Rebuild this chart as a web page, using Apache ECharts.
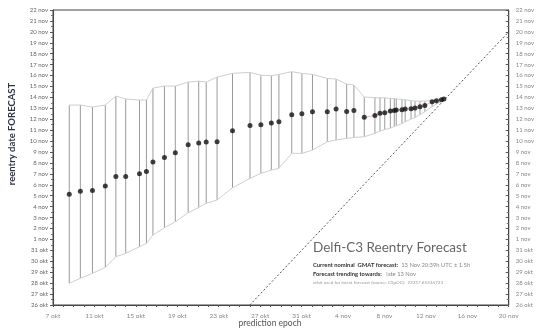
<!DOCTYPE html>
<html><head><meta charset="utf-8">
<script src="https://cdn.jsdelivr.net/npm/echarts@6/dist/echarts.min.js"></script>
<style>html,body{margin:0;padding:0;background:#fff}#c{width:537px;height:329px}</style>
</head><body><div id="c"></div>
<script>
// Day numbers: okt d = d, nov d = 31 + d
const epoch = [8.57, 9.64, 10.81, 12.05, 13.07, 14.02, 15.35, 16.02, 16.65, 17.76, 18.81, 20.05, 21.07, 21.79, 22.84, 24.33, 26.02, 27.07, 28.08, 28.81, 30.05, 31.03, 32.05, 33.48, 34.33, 35.35, 36.05, 37.05, 38.08, 38.57, 39.03, 39.57, 39.95, 40.14, 40.69, 41.00, 41.57, 41.95, 42.43, 42.90, 43.60, 44.02, 44.50, 44.74];
const forecast = [36.13, 36.40, 36.49, 36.89, 37.77, 37.77, 38.01, 38.23, 39.08, 39.51, 39.93, 40.67, 40.82, 40.91, 40.94, 41.95, 42.44, 42.50, 42.65, 42.77, 43.41, 43.50, 43.69, 43.69, 43.93, 43.72, 43.81, 43.18, 43.34, 43.54, 43.59, 43.75, 43.81, 43.84, 43.87, 43.93, 43.96, 44.02, 44.14, 44.27, 44.60, 44.69, 44.78, 44.86];
const upper = [44.30, 44.30, 44.12, 44.30, 45.12, 44.85, 44.76, 44.76, 45.85, 46.04, 46.04, 46.40, 46.49, 46.40, 46.86, 47.20, 47.29, 47.04, 46.98, 47.11, 47.35, 47.20, 47.11, 46.74, 46.68, 46.22, 46.13, 45.03, 44.98, 44.97, 44.96, 44.91, 44.89, 44.87, 44.82, 44.78, 44.71, 44.66, 44.66, 44.66, 44.73, 44.76, 44.80, 44.92];
const lower = [27.99, 28.44, 28.90, 29.45, 30.42, 30.73, 31.33, 31.64, 32.40, 33.07, 33.62, 34.44, 34.94, 35.30, 35.61, 36.73, 37.59, 38.05, 38.35, 38.51, 39.88, 39.88, 40.18, 40.94, 41.10, 41.25, 41.34, 41.40, 41.71, 41.92, 42.06, 42.19, 42.33, 42.42, 42.61, 42.77, 43.02, 43.15, 43.43, 43.69, 44.16, 44.39, 44.62, 44.80];
const diagonal = [[26, 26], [51, 51]];
const trendStart = 27; // index from which the recent forecasts are joined
const xLabelEvery = 4;

function dayLabel(v) {
  v = Math.round(v);
  return v <= 31 ? v + ' okt' : (v - 31) + ' nov';
}

const pts = epoch.map((x, i) => [x, forecast[i]]);
const ranges = epoch.map((x, i) => [x, lower[i], upper[i]]);
const up = epoch.map((x, i) => [x, upper[i]]);
const lo = epoch.map((x, i) => [x, lower[i]]);

const FONT = 'Lato, "Open Sans", sans-serif';
const chart = echarts.init(document.getElementById('c'), null, {renderer: 'canvas'});
chart.setOption({
  animation: false,
  backgroundColor: '#fff',
  grid: {left: 53, right: 22, top: 10, bottom: 24, show: true, borderColor: '#444', borderWidth: 1, containLabel: false},
  xAxis: {
    type: 'value', min: 7, max: 51, interval: 1,
    axisLine: {show: true, lineStyle: {color: '#444', width: 1}},
    axisTick: {show: true, length: 2, lineStyle: {color: '#555'}},
    splitLine: {show: false},
    axisLabel: {
      fontSize: 6.5, color: '#888', fontFamily: FONT, margin: 7,
      formatter: v => ((Math.round(v) - 7) % xLabelEvery === 0 ? dayLabel(v) : '')
    }
  },
  yAxis: [{
    type: 'value', min: 26, max: 53, interval: 1,
    axisLine: {show: true, lineStyle: {color: '#444', width: 1}},
    axisTick: {show: true, length: 3, lineStyle: {color: '#555'}},
    minorTick: {show: true, splitNumber: 2, length: 2, lineStyle: {color: '#777'}},
    splitLine: {show: false},
    axisLabel: {fontSize: 6, color: '#666', fontFamily: FONT, margin: 5, formatter: dayLabel}
  }, {
    type: 'value', min: 26, max: 53, interval: 1, position: 'right',
    axisLine: {show: true, lineStyle: {color: '#444', width: 1}},
    axisTick: {show: true, inside: true, length: 3, lineStyle: {color: '#555'}},
    minorTick: {show: true, splitNumber: 2, length: 2, lineStyle: {color: '#777'}},
    splitLine: {show: false},
    axisLabel: {fontSize: 6, color: '#888', fontFamily: FONT, margin: 7, formatter: dayLabel}
  }],
  series: [
    {
      type: 'custom', data: ranges, z: 2,
      renderItem: (params, api) => {
        const a = api.coord([api.value(0), api.value(1)]);
        const b = api.coord([api.value(0), api.value(2)]);
        return {type: 'line', shape: {x1: a[0], y1: a[1], x2: b[0], y2: b[1]},
          style: {stroke: '#9a9a9a', lineWidth: 1}};
      }
    },
    {type: 'line', data: up, symbol: 'none', lineStyle: {color: '#cfcfcf', width: 1}, z: 3},
    {type: 'line', data: lo, symbol: 'none', lineStyle: {color: '#cfcfcf', width: 1}, z: 3},
    {type: 'line', data: diagonal, symbol: 'none', lineStyle: {color: '#555', width: 1, type: [2, 2]}, z: 3},
    {type: 'line', data: pts.slice(trendStart), symbol: 'none', lineStyle: {color: 'rgba(220,90,90,0.6)', width: 0.7}, z: 4},
    {type: 'scatter', data: pts, symbolSize: 5, itemStyle: {color: '#111'}, z: 5}
  ],
  graphic: [
    {type: 'text', x: 12, y: 134, rotation: Math.PI / 2, style: {text: 'reentry date FORECAST', font: 'bold 9.5px ' + FONT, fill: '#2d3445', align: 'center', verticalAlign: 'middle'}},
    {type: 'text', x: 270, y: 323, style: {text: 'prediction epoch', font: '8.5px ' + FONT, fill: '#555', align: 'center', verticalAlign: 'middle'}},
    {type: 'text', x: 313, y: 248, style: {text: 'Delfi-C3 Reentry Forecast', font: '13.5px ' + FONT, fill: '#666', align: 'left', verticalAlign: 'middle'}},
    {type: 'text', x: 313, y: 265, style: {
      text: '{b|Current nominal  GMAT forecast:}{r|  13 Nov 20:39h UTC ± 1.5h}',
      verticalAlign: 'middle',
      rich: {b: {font: 'bold 5.8px ' + FONT, fill: '#333'}, r: {font: '5.8px ' + FONT, fill: '#888'}}
    }},
    {type: 'text', x: 313, y: 274, style: {
      text: '{b|Forecast trending towards:}{r|   late 13 Nov}',
      verticalAlign: 'middle',
      rich: {b: {font: 'bold 5.8px ' + FONT, fill: '#333'}, r: {font: '5.8px ' + FONT, fill: '#888'}}
    }},
    {type: 'text', x: 313, y: 283, style: {text: 'orbit used for latest forecast (source: CSpOC):  23317.65534723', font: '4.6px ' + FONT, fill: '#999', verticalAlign: 'middle'}}
  ]
});
</script></body></html>
